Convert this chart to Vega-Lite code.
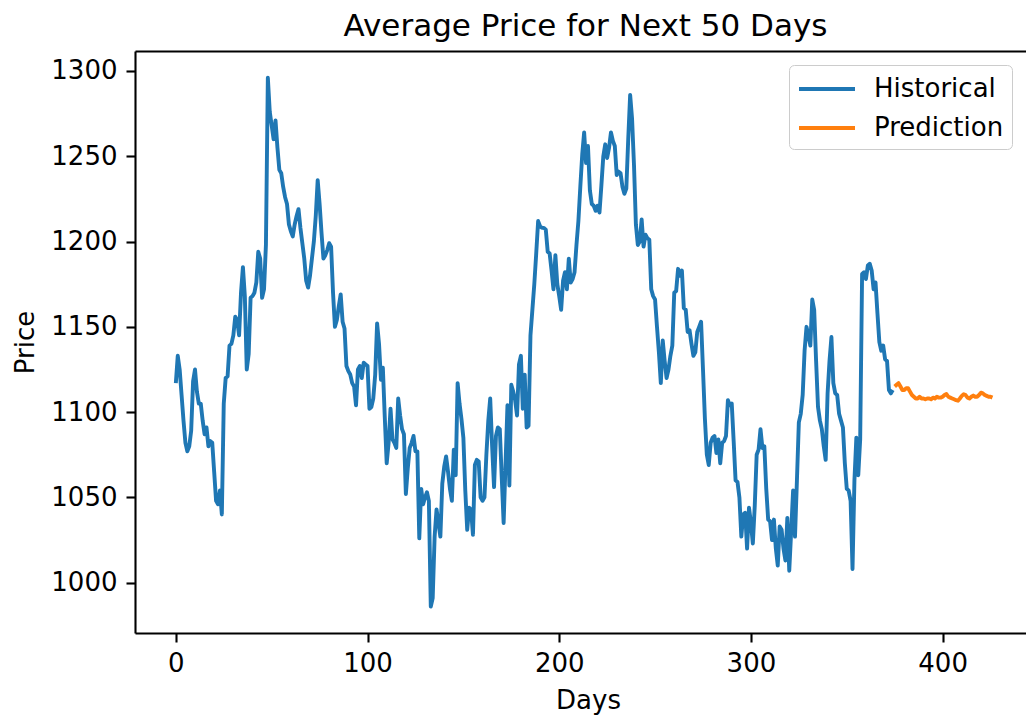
{
  "$schema": "https://vega.github.io/schema/vega-lite/v6.json",
  "autosize": {"type": "none"},
  "padding": {"left": 135, "top": 51, "right": 0, "bottom": 84},
  "width": 891,
  "height": 582,
  "background": "white",
  "title": {"text": "Average Price for Next 50 Days", "font": "DejaVu Sans", "fontSize": 31, "fontWeight": "normal", "color": "black", "anchor": "middle", "baseline": "alphabetic", "offset": 14, "dx": 5, "dy": 30},
  "config": {
    "view": {"stroke": null},
    "axis": {"domainColor": "black", "domainWidth": 2.1, "tickColor": "black", "tickWidth": 2.1, "tickSize": 9, "labelFont": "DejaVu Sans", "labelFontSize": 26, "labelColor": "black", "titleFont": "DejaVu Sans", "titleFontSize": 26, "titleFontWeight": "normal", "titleColor": "black", "grid": false},
    "legend": {"orient": "none", "legendX": 654, "legendY": 14, "padding": 8, "strokeColor": "#cccccc", "fillColor": "white", "cornerRadius": 5, "symbolType": "M-1,0H3", "symbolSize": 784, "symbolStrokeWidth": 3.9, "labelFont": "DejaVu Sans", "labelFontSize": 26, "labelColor": "black", "labelOffset": 45, "rowPadding": 10, "title": null}
  },
  "data": {"values": [
{"day":0,"price":1117,"series":"Historical"},{"day":1,"price":1133,"series":"Historical"},{"day":2,"price":1125,"series":"Historical"},{"day":3,"price":1110,"series":"Historical"},{"day":4,"price":1095,"series":"Historical"},{"day":5,"price":1082,"series":"Historical"},{"day":6,"price":1077,"series":"Historical"},{"day":7,"price":1080,"series":"Historical"},{"day":8,"price":1089,"series":"Historical"},{"day":9,"price":1118,"series":"Historical"},
{"day":10,"price":1125,"series":"Historical"},{"day":11,"price":1112,"series":"Historical"},{"day":12,"price":1105,"series":"Historical"},{"day":13,"price":1105,"series":"Historical"},{"day":14,"price":1095,"series":"Historical"},{"day":15,"price":1087,"series":"Historical"},{"day":16,"price":1091,"series":"Historical"},{"day":17,"price":1080,"series":"Historical"},{"day":18,"price":1083,"series":"Historical"},{"day":19,"price":1082,"series":"Historical"},
{"day":20,"price":1065,"series":"Historical"},{"day":21,"price":1048,"series":"Historical"},{"day":22,"price":1046,"series":"Historical"},{"day":23,"price":1054,"series":"Historical"},{"day":24,"price":1040,"series":"Historical"},{"day":25,"price":1105,"series":"Historical"},{"day":26,"price":1120,"series":"Historical"},{"day":27,"price":1121,"series":"Historical"},{"day":28,"price":1139,"series":"Historical"},{"day":29,"price":1140,"series":"Historical"},
{"day":30,"price":1145,"series":"Historical"},{"day":31,"price":1156,"series":"Historical"},{"day":32,"price":1154,"series":"Historical"},{"day":33,"price":1145,"series":"Historical"},{"day":34,"price":1170,"series":"Historical"},{"day":35,"price":1185,"series":"Historical"},{"day":36,"price":1168,"series":"Historical"},{"day":37,"price":1125,"series":"Historical"},{"day":38,"price":1134,"series":"Historical"},{"day":39,"price":1167,"series":"Historical"},
{"day":40,"price":1168,"series":"Historical"},{"day":41,"price":1170,"series":"Historical"},{"day":42,"price":1176,"series":"Historical"},{"day":43,"price":1194,"series":"Historical"},{"day":44,"price":1190,"series":"Historical"},{"day":45,"price":1167,"series":"Historical"},{"day":46,"price":1172,"series":"Historical"},{"day":47,"price":1198,"series":"Historical"},{"day":48,"price":1296,"series":"Historical"},{"day":49,"price":1276,"series":"Historical"},
{"day":50,"price":1268,"series":"Historical"},{"day":51,"price":1260,"series":"Historical"},{"day":52,"price":1271,"series":"Historical"},{"day":53,"price":1255,"series":"Historical"},{"day":54,"price":1242,"series":"Historical"},{"day":55,"price":1240,"series":"Historical"},{"day":56,"price":1232,"series":"Historical"},{"day":57,"price":1226,"series":"Historical"},{"day":58,"price":1222,"series":"Historical"},{"day":59,"price":1210,"series":"Historical"},
{"day":60,"price":1206,"series":"Historical"},{"day":61,"price":1203,"series":"Historical"},{"day":62,"price":1210,"series":"Historical"},{"day":63,"price":1215,"series":"Historical"},{"day":64,"price":1219,"series":"Historical"},{"day":65,"price":1208,"series":"Historical"},{"day":66,"price":1199,"series":"Historical"},{"day":67,"price":1190,"series":"Historical"},{"day":68,"price":1177,"series":"Historical"},{"day":69,"price":1173,"series":"Historical"},
{"day":70,"price":1180,"series":"Historical"},{"day":71,"price":1190,"series":"Historical"},{"day":72,"price":1200,"series":"Historical"},{"day":73,"price":1215,"series":"Historical"},{"day":74,"price":1236,"series":"Historical"},{"day":75,"price":1222,"series":"Historical"},{"day":76,"price":1205,"series":"Historical"},{"day":77,"price":1190,"series":"Historical"},{"day":78,"price":1192,"series":"Historical"},{"day":79,"price":1195,"series":"Historical"},
{"day":80,"price":1199,"series":"Historical"},{"day":81,"price":1197,"series":"Historical"},{"day":82,"price":1170,"series":"Historical"},{"day":83,"price":1150,"series":"Historical"},{"day":84,"price":1154,"series":"Historical"},{"day":85,"price":1162,"series":"Historical"},{"day":86,"price":1169,"series":"Historical"},{"day":87,"price":1153,"series":"Historical"},{"day":88,"price":1149,"series":"Historical"},{"day":89,"price":1127,"series":"Historical"},
{"day":90,"price":1124,"series":"Historical"},{"day":91,"price":1122,"series":"Historical"},{"day":92,"price":1117,"series":"Historical"},{"day":93,"price":1115,"series":"Historical"},{"day":94,"price":1104,"series":"Historical"},{"day":95,"price":1125,"series":"Historical"},{"day":96,"price":1127,"series":"Historical"},{"day":97,"price":1120,"series":"Historical"},{"day":98,"price":1129,"series":"Historical"},{"day":99,"price":1128,"series":"Historical"},
{"day":100,"price":1127,"series":"Historical"},{"day":101,"price":1102,"series":"Historical"},{"day":102,"price":1103,"series":"Historical"},{"day":103,"price":1108,"series":"Historical"},{"day":104,"price":1122,"series":"Historical"},{"day":105,"price":1152,"series":"Historical"},{"day":106,"price":1140,"series":"Historical"},{"day":107,"price":1119,"series":"Historical"},{"day":108,"price":1126,"series":"Historical"},{"day":109,"price":1097,"series":"Historical"},
{"day":110,"price":1070,"series":"Historical"},{"day":111,"price":1082,"series":"Historical"},{"day":112,"price":1102,"series":"Historical"},{"day":113,"price":1084,"series":"Historical"},{"day":114,"price":1082,"series":"Historical"},{"day":115,"price":1079,"series":"Historical"},{"day":116,"price":1108,"series":"Historical"},{"day":117,"price":1098,"series":"Historical"},{"day":118,"price":1090,"series":"Historical"},{"day":119,"price":1087,"series":"Historical"},
{"day":120,"price":1052,"series":"Historical"},{"day":121,"price":1067,"series":"Historical"},{"day":122,"price":1079,"series":"Historical"},{"day":123,"price":1082,"series":"Historical"},{"day":124,"price":1086,"series":"Historical"},{"day":125,"price":1077,"series":"Historical"},{"day":126,"price":1077,"series":"Historical"},{"day":127,"price":1026,"series":"Historical"},{"day":128,"price":1055,"series":"Historical"},{"day":129,"price":1046,"series":"Historical"},
{"day":130,"price":1050,"series":"Historical"},{"day":131,"price":1053,"series":"Historical"},{"day":132,"price":1048,"series":"Historical"},{"day":133,"price":986,"series":"Historical"},{"day":134,"price":991,"series":"Historical"},{"day":135,"price":1027,"series":"Historical"},{"day":136,"price":1043,"series":"Historical"},{"day":137,"price":1035,"series":"Historical"},{"day":138,"price":1027,"series":"Historical"},{"day":139,"price":1058,"series":"Historical"},
{"day":140,"price":1068,"series":"Historical"},{"day":141,"price":1074,"series":"Historical"},{"day":142,"price":1065,"series":"Historical"},{"day":143,"price":1055,"series":"Historical"},{"day":144,"price":1048,"series":"Historical"},{"day":145,"price":1078,"series":"Historical"},{"day":146,"price":1063,"series":"Historical"},{"day":147,"price":1117,"series":"Historical"},{"day":148,"price":1105,"series":"Historical"},{"day":149,"price":1096,"series":"Historical"},
{"day":150,"price":1085,"series":"Historical"},{"day":151,"price":1054,"series":"Historical"},{"day":152,"price":1031,"series":"Historical"},{"day":153,"price":1044,"series":"Historical"},{"day":154,"price":1043,"series":"Historical"},{"day":155,"price":1028,"series":"Historical"},{"day":156,"price":1069,"series":"Historical"},{"day":157,"price":1072,"series":"Historical"},{"day":158,"price":1071,"series":"Historical"},{"day":159,"price":1050,"series":"Historical"},
{"day":160,"price":1048,"series":"Historical"},{"day":161,"price":1050,"series":"Historical"},{"day":162,"price":1075,"series":"Historical"},{"day":163,"price":1095,"series":"Historical"},{"day":164,"price":1108,"series":"Historical"},{"day":165,"price":1080,"series":"Historical"},{"day":166,"price":1056,"series":"Historical"},{"day":167,"price":1086,"series":"Historical"},{"day":168,"price":1091,"series":"Historical"},{"day":169,"price":1090,"series":"Historical"},
{"day":170,"price":1062,"series":"Historical"},{"day":171,"price":1035,"series":"Historical"},{"day":172,"price":1070,"series":"Historical"},{"day":173,"price":1104,"series":"Historical"},{"day":174,"price":1057,"series":"Historical"},{"day":175,"price":1116,"series":"Historical"},{"day":176,"price":1112,"series":"Historical"},{"day":177,"price":1107,"series":"Historical"},{"day":178,"price":1098,"series":"Historical"},{"day":179,"price":1128,"series":"Historical"},
{"day":180,"price":1133,"series":"Historical"},{"day":181,"price":1102,"series":"Historical"},{"day":182,"price":1122,"series":"Historical"},{"day":183,"price":1091,"series":"Historical"},{"day":184,"price":1092,"series":"Historical"},{"day":185,"price":1145,"series":"Historical"},{"day":186,"price":1160,"series":"Historical"},{"day":187,"price":1175,"series":"Historical"},{"day":188,"price":1193,"series":"Historical"},{"day":189,"price":1212,"series":"Historical"},
{"day":190,"price":1209,"series":"Historical"},{"day":191,"price":1208,"series":"Historical"},{"day":192,"price":1208,"series":"Historical"},{"day":193,"price":1207,"series":"Historical"},{"day":194,"price":1194,"series":"Historical"},{"day":195,"price":1193,"series":"Historical"},{"day":196,"price":1183,"series":"Historical"},{"day":197,"price":1172,"series":"Historical"},{"day":198,"price":1192,"series":"Historical"},{"day":199,"price":1175,"series":"Historical"},
{"day":200,"price":1168,"series":"Historical"},{"day":201,"price":1160,"series":"Historical"},{"day":202,"price":1177,"series":"Historical"},{"day":203,"price":1182,"series":"Historical"},{"day":204,"price":1172,"series":"Historical"},{"day":205,"price":1190,"series":"Historical"},{"day":206,"price":1176,"series":"Historical"},{"day":207,"price":1178,"series":"Historical"},{"day":208,"price":1182,"series":"Historical"},{"day":209,"price":1198,"series":"Historical"},
{"day":210,"price":1212,"series":"Historical"},{"day":211,"price":1232,"series":"Historical"},{"day":212,"price":1251,"series":"Historical"},{"day":213,"price":1264,"series":"Historical"},{"day":214,"price":1246,"series":"Historical"},{"day":215,"price":1256,"series":"Historical"},{"day":216,"price":1230,"series":"Historical"},{"day":217,"price":1222,"series":"Historical"},{"day":218,"price":1221,"series":"Historical"},{"day":219,"price":1218,"series":"Historical"},
{"day":220,"price":1221,"series":"Historical"},{"day":221,"price":1217,"series":"Historical"},{"day":222,"price":1233,"series":"Historical"},{"day":223,"price":1250,"series":"Historical"},{"day":224,"price":1257,"series":"Historical"},{"day":225,"price":1249,"series":"Historical"},{"day":226,"price":1255,"series":"Historical"},{"day":227,"price":1264,"series":"Historical"},{"day":228,"price":1259,"series":"Historical"},{"day":229,"price":1256,"series":"Historical"},
{"day":230,"price":1239,"series":"Historical"},{"day":231,"price":1241,"series":"Historical"},{"day":232,"price":1240,"series":"Historical"},{"day":233,"price":1232,"series":"Historical"},{"day":234,"price":1228,"series":"Historical"},{"day":235,"price":1231,"series":"Historical"},{"day":236,"price":1260,"series":"Historical"},{"day":237,"price":1286,"series":"Historical"},{"day":238,"price":1272,"series":"Historical"},{"day":239,"price":1245,"series":"Historical"},
{"day":240,"price":1210,"series":"Historical"},{"day":241,"price":1198,"series":"Historical"},{"day":242,"price":1200,"series":"Historical"},{"day":243,"price":1213,"series":"Historical"},{"day":244,"price":1197,"series":"Historical"},{"day":245,"price":1204,"series":"Historical"},{"day":246,"price":1202,"series":"Historical"},{"day":247,"price":1201,"series":"Historical"},{"day":248,"price":1172,"series":"Historical"},{"day":249,"price":1168,"series":"Historical"},
{"day":250,"price":1166,"series":"Historical"},{"day":251,"price":1150,"series":"Historical"},{"day":252,"price":1135,"series":"Historical"},{"day":253,"price":1117,"series":"Historical"},{"day":254,"price":1142,"series":"Historical"},{"day":255,"price":1130,"series":"Historical"},{"day":256,"price":1120,"series":"Historical"},{"day":257,"price":1125,"series":"Historical"},{"day":258,"price":1133,"series":"Historical"},{"day":259,"price":1139,"series":"Historical"},
{"day":260,"price":1170,"series":"Historical"},{"day":261,"price":1171,"series":"Historical"},{"day":262,"price":1184,"series":"Historical"},{"day":263,"price":1180,"series":"Historical"},{"day":264,"price":1183,"series":"Historical"},{"day":265,"price":1161,"series":"Historical"},{"day":266,"price":1160,"series":"Historical"},{"day":267,"price":1147,"series":"Historical"},{"day":268,"price":1148,"series":"Historical"},{"day":269,"price":1140,"series":"Historical"},
{"day":270,"price":1133,"series":"Historical"},{"day":271,"price":1135,"series":"Historical"},{"day":272,"price":1147,"series":"Historical"},{"day":273,"price":1150,"series":"Historical"},{"day":274,"price":1153,"series":"Historical"},{"day":275,"price":1125,"series":"Historical"},{"day":276,"price":1096,"series":"Historical"},{"day":277,"price":1075,"series":"Historical"},{"day":278,"price":1069,"series":"Historical"},{"day":279,"price":1082,"series":"Historical"},
{"day":280,"price":1085,"series":"Historical"},{"day":281,"price":1086,"series":"Historical"},{"day":282,"price":1076,"series":"Historical"},{"day":283,"price":1084,"series":"Historical"},{"day":284,"price":1070,"series":"Historical"},{"day":285,"price":1082,"series":"Historical"},{"day":286,"price":1083,"series":"Historical"},{"day":287,"price":1086,"series":"Historical"},{"day":288,"price":1107,"series":"Historical"},{"day":289,"price":1104,"series":"Historical"},
{"day":290,"price":1105,"series":"Historical"},{"day":291,"price":1083,"series":"Historical"},{"day":292,"price":1060,"series":"Historical"},{"day":293,"price":1059,"series":"Historical"},{"day":294,"price":1050,"series":"Historical"},{"day":295,"price":1027,"series":"Historical"},{"day":296,"price":1040,"series":"Historical"},{"day":297,"price":1041,"series":"Historical"},{"day":298,"price":1020,"series":"Historical"},{"day":299,"price":1044,"series":"Historical"},
{"day":300,"price":1035,"series":"Historical"},{"day":301,"price":1023,"series":"Historical"},{"day":302,"price":1045,"series":"Historical"},{"day":303,"price":1075,"series":"Historical"},{"day":304,"price":1078,"series":"Historical"},{"day":305,"price":1090,"series":"Historical"},{"day":306,"price":1079,"series":"Historical"},{"day":307,"price":1080,"series":"Historical"},{"day":308,"price":1055,"series":"Historical"},{"day":309,"price":1037,"series":"Historical"},
{"day":310,"price":1036,"series":"Historical"},{"day":311,"price":1025,"series":"Historical"},{"day":312,"price":1037,"series":"Historical"},{"day":313,"price":1020,"series":"Historical"},{"day":314,"price":1010,"series":"Historical"},{"day":315,"price":1033,"series":"Historical"},{"day":316,"price":1031,"series":"Historical"},{"day":317,"price":1020,"series":"Historical"},{"day":318,"price":1013,"series":"Historical"},{"day":319,"price":1038,"series":"Historical"},
{"day":320,"price":1007,"series":"Historical"},{"day":321,"price":1030,"series":"Historical"},{"day":322,"price":1054,"series":"Historical"},{"day":323,"price":1027,"series":"Historical"},{"day":324,"price":1060,"series":"Historical"},{"day":325,"price":1094,"series":"Historical"},{"day":326,"price":1099,"series":"Historical"},{"day":327,"price":1110,"series":"Historical"},{"day":328,"price":1136,"series":"Historical"},{"day":329,"price":1150,"series":"Historical"},
{"day":330,"price":1145,"series":"Historical"},{"day":331,"price":1139,"series":"Historical"},{"day":332,"price":1166,"series":"Historical"},{"day":333,"price":1160,"series":"Historical"},{"day":334,"price":1130,"series":"Historical"},{"day":335,"price":1103,"series":"Historical"},{"day":336,"price":1095,"series":"Historical"},{"day":337,"price":1090,"series":"Historical"},{"day":338,"price":1080,"series":"Historical"},{"day":339,"price":1072,"series":"Historical"},
{"day":340,"price":1111,"series":"Historical"},{"day":341,"price":1130,"series":"Historical"},{"day":342,"price":1144,"series":"Historical"},{"day":343,"price":1117,"series":"Historical"},{"day":344,"price":1111,"series":"Historical"},{"day":345,"price":1110,"series":"Historical"},{"day":346,"price":1099,"series":"Historical"},{"day":347,"price":1095,"series":"Historical"},{"day":348,"price":1091,"series":"Historical"},{"day":349,"price":1070,"series":"Historical"},
{"day":350,"price":1055,"series":"Historical"},{"day":351,"price":1054,"series":"Historical"},{"day":352,"price":1048,"series":"Historical"},{"day":353,"price":1008,"series":"Historical"},{"day":354,"price":1060,"series":"Historical"},{"day":355,"price":1085,"series":"Historical"},{"day":356,"price":1063,"series":"Historical"},{"day":357,"price":1084,"series":"Historical"},{"day":358,"price":1181,"series":"Historical"},{"day":359,"price":1182,"series":"Historical"},
{"day":360,"price":1178,"series":"Historical"},{"day":361,"price":1186,"series":"Historical"},{"day":362,"price":1187,"series":"Historical"},{"day":363,"price":1183,"series":"Historical"},{"day":364,"price":1172,"series":"Historical"},{"day":365,"price":1176,"series":"Historical"},{"day":366,"price":1158,"series":"Historical"},{"day":367,"price":1141,"series":"Historical"},{"day":368,"price":1136,"series":"Historical"},{"day":369,"price":1139,"series":"Historical"},
{"day":370,"price":1131,"series":"Historical"},{"day":371,"price":1130,"series":"Historical"},{"day":372,"price":1113,"series":"Historical"},{"day":373,"price":1111,"series":"Historical"},{"day":374,"price":1113,"series":"Historical"},
{"day":375,"price":1115,"series":"Prediction"},{"day":376,"price":1116,"series":"Prediction"},{"day":377,"price":1117,"series":"Prediction"},{"day":378,"price":1115,"series":"Prediction"},{"day":379,"price":1113,"series":"Prediction"},{"day":380,"price":1113,"series":"Prediction"},{"day":381,"price":1114,"series":"Prediction"},{"day":382,"price":1114,"series":"Prediction"},{"day":383,"price":1112,"series":"Prediction"},{"day":384,"price":1110,"series":"Prediction"},
{"day":385,"price":1109,"series":"Prediction"},{"day":386,"price":1108,"series":"Prediction"},{"day":387,"price":1108,"series":"Prediction"},{"day":388,"price":1109,"series":"Prediction"},{"day":389,"price":1108,"series":"Prediction"},{"day":390,"price":1108,"series":"Prediction"},{"day":391,"price":1107.5,"series":"Prediction"},{"day":392,"price":1108,"series":"Prediction"},{"day":393,"price":1108,"series":"Prediction"},{"day":394,"price":1107.5,"series":"Prediction"},
{"day":395,"price":1108.5,"series":"Prediction"},{"day":396,"price":1108,"series":"Prediction"},{"day":397,"price":1109,"series":"Prediction"},{"day":398,"price":1108.5,"series":"Prediction"},{"day":399,"price":1108.5,"series":"Prediction"},{"day":400,"price":1109,"series":"Prediction"},{"day":401,"price":1110,"series":"Prediction"},{"day":402,"price":1110.6,"series":"Prediction"},{"day":403,"price":1109,"series":"Prediction"},{"day":404,"price":1108.5,"series":"Prediction"},
{"day":405,"price":1108,"series":"Prediction"},{"day":406,"price":1107.5,"series":"Prediction"},{"day":407,"price":1107,"series":"Prediction"},{"day":408,"price":1106.7,"series":"Prediction"},{"day":409,"price":1108,"series":"Prediction"},{"day":410,"price":1109.5,"series":"Prediction"},{"day":411,"price":1110.5,"series":"Prediction"},{"day":412,"price":1110,"series":"Prediction"},{"day":413,"price":1108.5,"series":"Prediction"},{"day":414,"price":1108,"series":"Prediction"},
{"day":415,"price":1109,"series":"Prediction"},{"day":416,"price":1109.7,"series":"Prediction"},{"day":417,"price":1109,"series":"Prediction"},{"day":418,"price":1109,"series":"Prediction"},{"day":419,"price":1110,"series":"Prediction"},{"day":420,"price":1111.4,"series":"Prediction"},{"day":421,"price":1111,"series":"Prediction"},{"day":422,"price":1110,"series":"Prediction"},{"day":423,"price":1109.5,"series":"Prediction"},{"day":424,"price":1109,"series":"Prediction"},
{"day":425,"price":1109,"series":"Prediction"},{"day":426,"price":1108.5,"series":"Prediction"}
  ]},
  "encoding": {
    "y": {"field": "price", "type": "quantitative", "scale": {"domain": [970.5, 1311.7], "nice": false, "zero": false}, "axis": {"values": [1000, 1050, 1100, 1150, 1200, 1250, 1300], "format": "d", "title": "Price", "labelPadding": 9, "titleAngle": -90, "titleX": -102, "titleBaseline": "alphabetic"}},
    "color": {"field": "series", "type": "nominal", "scale": {"domain": ["Historical", "Prediction"], "range": ["#1f77b4", "#ff7f0e"]}}
  },
  "layer": [
    {
      "transform": [{"filter": "datum.series === 'Historical'"}],
      "mark": {"type": "line", "strokeWidth": 3.9, "strokeJoin": "round"},
      "encoding": {
        "x": {"field": "day", "type": "quantitative", "scale": {"domain": [-21.3, 443.5], "nice": false, "zero": false}, "axis": {"orient": "bottom", "values": [0, 100, 200, 300, 400], "format": "d", "title": "Days", "labelPadding": 8, "titleX": 453, "titleY": 75, "titleBaseline": "alphabetic"}}
      }
    },
    {
      "transform": [{"filter": "datum.series === 'Prediction'"}],
      "mark": {"type": "line", "strokeWidth": 3.9, "strokeJoin": "round"},
      "encoding": {
        "x": {"field": "day", "type": "quantitative", "axis": {"orient": "top", "labels": false, "ticks": false, "title": null, "domain": true}}
      }
    }
  ],
  "resolve": {"axis": {"x": "independent"}}
}
